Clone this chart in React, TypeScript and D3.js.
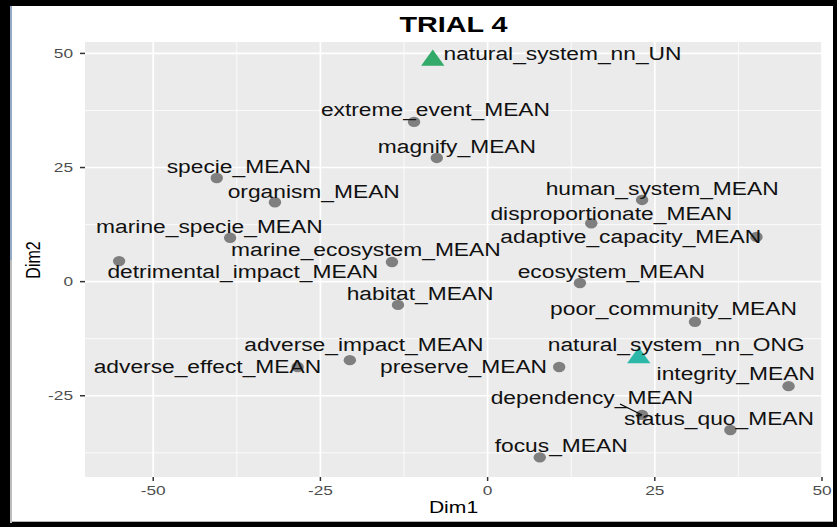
import * as d3 from 'd3'

// point coordinates (Dim1, Dim2)
const names = [
  'natural_system_nn_UN', 'extreme_event_MEAN', 'magnify_MEAN', 'specie_MEAN', 'organism_MEAN',
  'marine_specie_MEAN', 'marine_ecosystem_MEAN', 'detrimental_impact_MEAN', 'human_system_MEAN',
  'disproportionate_MEAN', 'adaptive_capacity_MEAN', 'ecosystem_MEAN', 'habitat_MEAN',
  'poor_community_MEAN', 'adverse_impact_MEAN', 'adverse_effect_MEAN', 'preserve_MEAN',
  'natural_system_nn_ONG', 'integrity_MEAN', 'dependency_MEAN', 'status_quo_MEAN', 'focus_MEAN',
]
const dim1 = [-8.2, -11.0, -7.6, -40.5, -31.8, -38.5, -14.3, -55.1, 23.1, 15.5, 40.2, 13.8, -13.4, 31.0, -20.6, -28.4, 10.7, 22.6, 45.0, 23.1, 36.3, 7.8]
const dim2 = [48.5, 35.0, 27.1, 22.7, 17.4, 9.6, 4.3, 4.5, 17.9, 12.8, 9.8, -0.3, -5.1, -8.8, -17.2, -18.7, -18.7, -16.7, -22.9, -29.2, -32.5, -38.5]
// group: 'UN', 'ONG' or 'MEAN'
const groups = ['UN', 'MEAN', 'MEAN', 'MEAN', 'MEAN', 'MEAN', 'MEAN', 'MEAN', 'MEAN', 'MEAN', 'MEAN', 'MEAN', 'MEAN', 'MEAN', 'MEAN', 'MEAN', 'MEAN', 'ONG', 'MEAN', 'MEAN', 'MEAN', 'MEAN']

// repelled label centres (data units)
const labelX = [11.2, -7.8, -4.6, -37.2, -26.0, -41.6, -18.2, -36.6, 26.1, 18.5, 21.4, 18.5, -10.1, 27.8, -18.5, -41.9, -3.6, 28.2, 37.1, 15.6, 34.6, 11.0]
const labelY = [49.9, 37.8, 29.5, 25.1, 19.8, 12.0, 7.1, 2.3, 20.3, 15.0, 9.8, 2.3, -2.7, -6.0, -13.7, -18.5, -18.5, -13.7, -20.2, -25.3, -29.9, -36.0]
// ggrepel segment start (only dependency_MEAN has one)
const segments = [{ idx: 19, x: 19.8, y: -26.8 }]

const xTicks = [-50, -25, 0, 25, 50]
const yTicks = [-25, 0, 25, 50]
const xMinor = [-37.5, -12.5, 12.5, 37.5]
const yMinor = [-37.5, -12.5, 12.5, 37.5]

const W = 837
const H = 527
const SX = 1.28 // picture is stretched sideways
const FONT = '"Liberation Sans", Arial, sans-serif'
const colors: Record<string, string> = { UN: '#33a96a', ONG: '#2bb8a8', MEAN: '#7f7f7f' }

const panel = { left: 85, right: 822, top: 42, bottom: 477 }

export default function App() {
  const x = d3.scaleLinear().domain([-60.2, 50]).range([panel.left, panel.right])
  const y = d3.scaleLinear().domain([-42.8, 52.5]).range([panel.bottom, panel.top])

  const tri = d3.symbol().type(d3.symbolTriangle).size(150)()

  const stretched = (tx: number, ty: number, extra = '') =>
    `translate(${tx},${ty}) scale(${SX},1)${extra}`

  return (
    <svg width={W} height={H} style={{ position: 'absolute', left: 0, top: 0 }}>
      {/* frame */}
      <rect x={0} y={0} width={W} height={H} fill="#000" />
      <rect x={12} y={6} width={821} height={516} fill="#fff" />
      <line x1={12} x2={833} y1={521.5} y2={521.5} stroke="#b5b5b5" />
      <rect x={10} y={6} width={2} height={254} fill="#94a9c6" />
      <rect x={10} y={260} width={2} height={263} fill="#bdbdbd" />

      {/* panel */}
      <rect x={panel.left} y={panel.top} width={panel.right - panel.left} height={panel.bottom - panel.top} fill="#ebebeb" />
      {xMinor.map(v => (
        <line key={'xm' + v} x1={x(v)} x2={x(v)} y1={panel.top} y2={panel.bottom} stroke="#fff" strokeWidth={0.8} />
      ))}
      {yMinor.map(v => (
        <line key={'ym' + v} x1={panel.left} x2={panel.right} y1={y(v)} y2={y(v)} stroke="#fff" strokeWidth={0.8} />
      ))}
      {xTicks.map(v => (
        <line key={'xM' + v} x1={x(v)} x2={x(v)} y1={panel.top} y2={panel.bottom} stroke="#fff" strokeWidth={1.7} />
      ))}
      {yTicks.map(v => (
        <line key={'yM' + v} x1={panel.left} x2={panel.right} y1={y(v)} y2={y(v)} stroke="#fff" strokeWidth={1.7} />
      ))}

      {/* axes */}
      {xTicks.map(v => (
        <g key={'xt' + v}>
          <line x1={x(v)} x2={x(v)} y1={panel.bottom} y2={panel.bottom + 4} stroke="#333" strokeWidth={1.5} />
          <text transform={stretched(x(v), 490)} textAnchor="middle" dy="0.35em"
            fontFamily={FONT} fontSize={13.5} fill="#4d4d4d">{v}</text>
        </g>
      ))}
      {yTicks.map(v => (
        <g key={'yt' + v}>
          <line x1={panel.left - 5} x2={panel.left} y1={y(v)} y2={y(v)} stroke="#333" strokeWidth={1.5} />
          <text transform={stretched(73, y(v))} textAnchor="end" dy="0.35em"
            fontFamily={FONT} fontSize={13.5} fill="#4d4d4d">{v}</text>
        </g>
      ))}
      <text transform={stretched((panel.left + panel.right) / 2, 513)} textAnchor="middle"
        fontFamily={FONT} fontSize={16.5} fill="#000">Dim1</text>
      <text transform={stretched(40, 260, ' rotate(-90)')} textAnchor="middle"
        fontFamily={FONT} fontSize={16} fill="#000">Dim2</text>

      {/* title */}
      <text transform={stretched((panel.left + panel.right) / 2, 32)} textAnchor="middle"
        fontFamily={FONT} fontSize={22.5} fontWeight="bold" fill="#000">TRIAL 4</text>

      {/* points */}
      {names.map((n, i) =>
        groups[i] === 'MEAN' ? (
          <ellipse key={'p' + n} cx={x(dim1[i])} cy={y(dim2[i])} rx={6.2} ry={5.2} fill={colors.MEAN} />
        ) : (
          <path key={'p' + n} d={tri || ''} fill={colors[groups[i]]}
            transform={`translate(${x(dim1[i])},${y(dim2[i])}) scale(1.25,1)`} />
        )
      )}

      {/* repel segments */}
      {segments.map(s => (
        <line key={'s' + s.idx} x1={x(s.x)} y1={y(s.y)} x2={x(dim1[s.idx])} y2={y(dim2[s.idx])}
          stroke="#000" strokeWidth={1.2} />
      ))}

      {/* labels */}
      {names.map((n, i) => (
        <text key={'l' + n} transform={stretched(x(labelX[i]), y(labelY[i]))} textAnchor="middle" dy="0.36em"
          fontFamily={FONT} fontSize={17.8} fill="#111">{n}</text>
      ))}
    </svg>
  )
}
